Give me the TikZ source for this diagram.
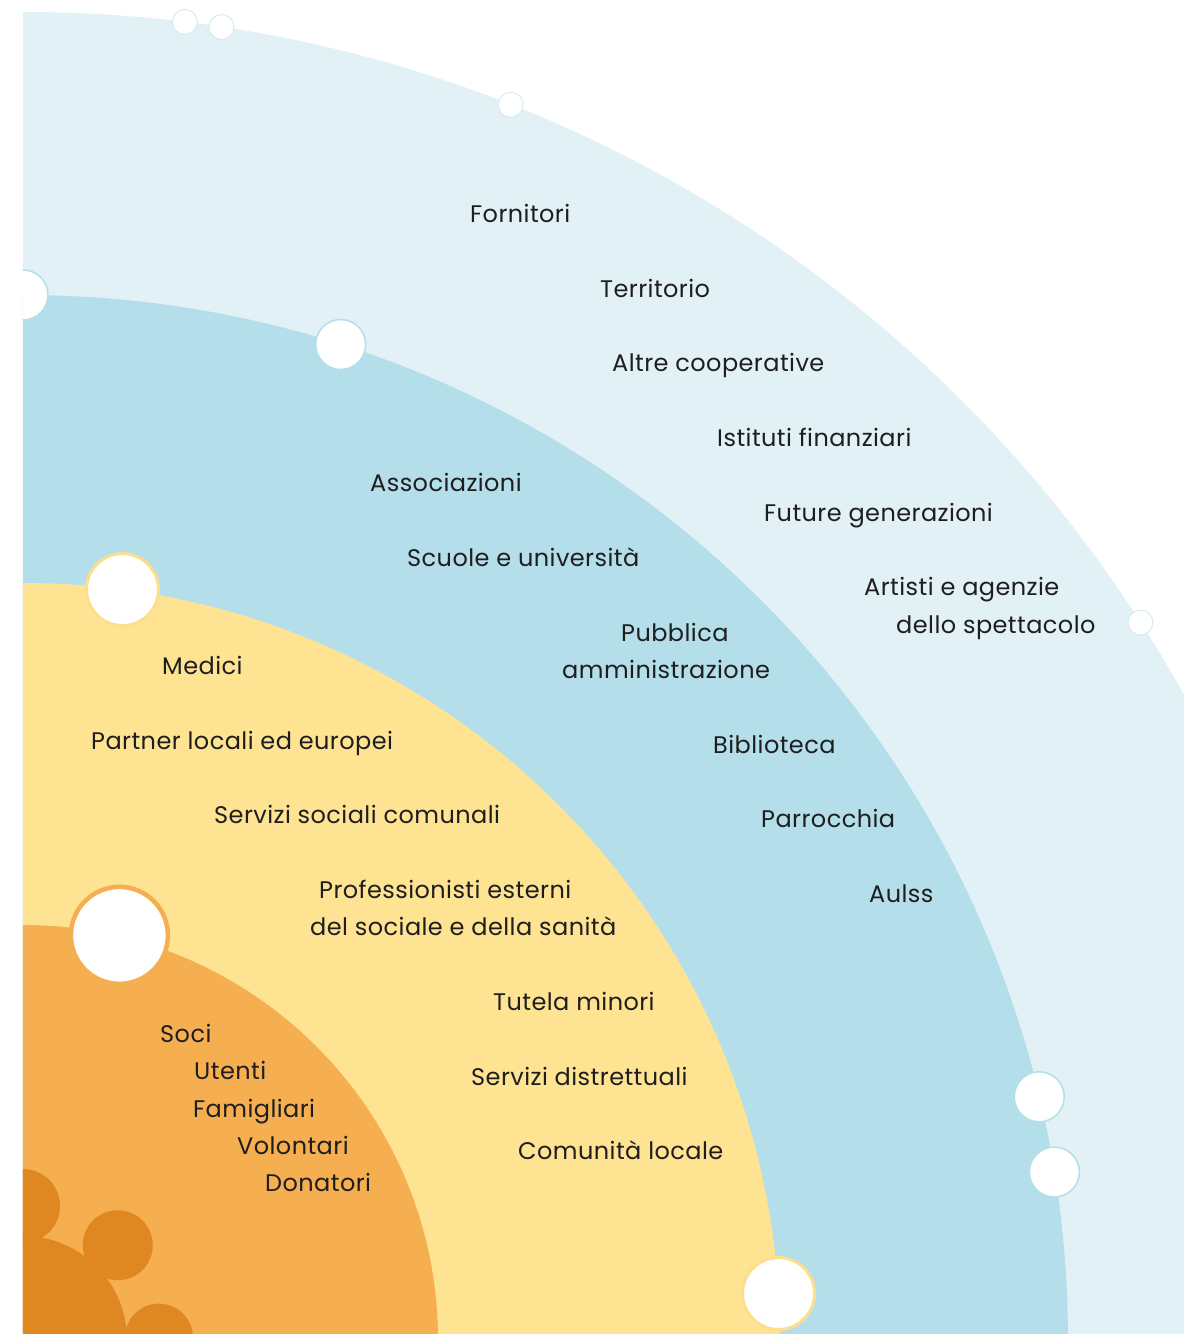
\documentclass[tikz,border=0pt]{standalone}
\usepackage{fontspec}
\setmainfont{Poppins}[LetterSpace=1.8]
\usetikzlibrary{calc}
\definecolor{ringout}{HTML}{E2F1F6}
\definecolor{ringmid}{HTML}{B4DEEA}
\definecolor{ringyel}{HTML}{FEE393}
\definecolor{ringora}{HTML}{F5AF50}
\definecolor{ringcore}{HTML}{DF8721}
\definecolor{txt}{HTML}{1E1E1E}
\def\bubble[#1](#2:#3:#4){\draw[#1] (#2:#3) circle (#4);}

\begin{document}
\begin{tikzpicture}[x=1pt, y=1pt,
		lbl/.style={anchor=base west, inner sep=0pt, text=txt, font=\fontsize{24}{29}\selectfont}]
			%%%%% START %%%%%
			
			\useasboundingbox (-23, 6) rectangle (1161, 1340);
			
			\begin{scope}
			\clip (0, 6) rectangle (1161, 1340);
			
			% rings
			\fill[ringout] (0, 0) circle (1328);
			\fill[ringmid] (0, 0) circle (1045);
			\fill[ringyel] (0, 0) circle (757);
			\fill[ringora] (0, 0) circle (415);
			
			% core
			\fill[ringcore] (0, 0) circle (104);
			\fill[ringcore] (90:134) circle (37);
			\fill[ringcore] (45:134) circle (35);
			\fill[ringcore] (1:136) circle (34);
			
			% bubbles
			\bubble[fill=white, draw=ringout!70!ringmid, line width=1pt](83.0:1328:12.5)
			\bubble[fill=white, draw=ringout!70!ringmid, line width=1pt](81.4:1328:12.5)
			\bubble[fill=white, draw=ringout!70!ringmid, line width=1pt](68.45:1328:12.5)
			\bubble[fill=white, draw=ringout!70!ringmid, line width=1pt](32.7:1328:12.5)
			
			\bubble[fill=white, draw=ringmid, line width=1.5pt](90:1045:25)
			\bubble[fill=white, draw=ringmid, line width=1.5pt](72.3:1045:25)
			\bubble[fill=white, draw=ringmid, line width=1.5pt](13.46:1045:25)
			\bubble[fill=white, draw=ringmid, line width=1.5pt](9.25:1045:25)
			
			\bubble[fill=white, draw=ringyel!90!ringora, line width=3pt](82.45:757:36)
			\bubble[fill=white, draw=ringyel!90!ringora, line width=3pt](3.52:757:36)
			
			\bubble[fill=white, draw=ringora, line width=4.5pt](76.6:416:48.5)
			\end{scope}
			
			% outer ring
			\node[lbl] (fornitori) at (447, 1117) {Fornitori};
			\node[lbl] (territorio) at (577, 1042) {Territorio};
			\node[lbl] (altre) at (589, 968) {Altre cooperative};
			\node[lbl] (istituti) at (694, 893) {Istituti finanziari};
			\node[lbl] (future) at (741, 818) {Future generazioni};
			\node[lbl] (artisti) at (841, 744) {Artisti e agenzie};
			\node[lbl] (spettacolo) at (873, 706) {dello spettacolo};
			
			% blue ring
			\node[lbl] (associazioni) at (347, 848) {Associazioni};
			\node[lbl] (scuole) at (384, 773) {Scuole e università};
			\node[lbl] (pubblica) at (598, 698) {Pubblica};
			\node[lbl] (ammin) at (539, 661) {amministrazione};
			\node[lbl] (biblioteca) at (690, 586) {Biblioteca};
			\node[lbl] (parrocchia) at (738, 512) {Parrocchia};
			\node[lbl] (aulss) at (846, 437) {Aulss};
			
			% yellow ring
			\node[lbl] (medici) at (139, 665) {Medici};
			\node[lbl] (partner) at (68, 590) {Partner locali ed europei};
			\node[lbl] (servsoc) at (191, 516) {Servizi sociali comunali};
			\node[lbl] (profess) at (296, 441) {Professionisti esterni};
			\node[lbl] (sanita) at (287, 404) {del sociale e della sanità};
			\node[lbl] (tutela) at (470, 329) {Tutela minori};
			\node[lbl] (distrett) at (448, 254) {Servizi distrettuali};
			\node[lbl] (comunita) at (495, 180) {Comunità locale};
			
			% orange ring
			\node[lbl] (soci) at (137, 297) {Soci};
			\node[lbl] (utenti) at (171, 260) {Utenti};
			\node[lbl] (famigliari) at (170, 222) {Famigliari};
			\node[lbl] (volontari) at (214, 185) {Volontari};
			\node[lbl] (donatori) at (242, 148) {Donatori};
			
			%%%%% END %%%%%
		\end{tikzpicture}
\end{document}
